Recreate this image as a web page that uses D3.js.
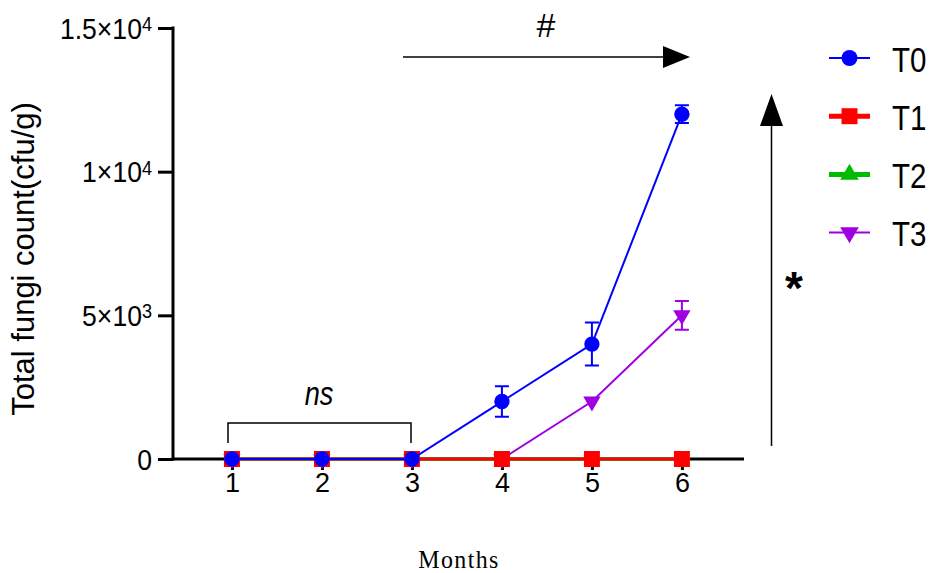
<!DOCTYPE html>
<html><head><meta charset="utf-8">
<script src="https://cdn.jsdelivr.net/npm/d3@7"></script>
<style>body{margin:0;background:#fff}svg{display:block}</style>
</head><body>
<svg id="c" width="931" height="573"></svg>
<script>
const months = [1, 2, 3, 4, 5, 6];
const seriesNames = ["T0", "T1", "T2", "T3"];
const T0 = [0, 0, 0, 2000, 4000, 12000];
const T0err = [0, 0, 0, 530, 750, 310];
const T1 = [0, 0, 0, 0, 0, 0];
const T1err = [0, 0, 0, 0, 0, 0];
const T2 = [0, 0, 0, 0, 0, 0];
const T2err = [0, 0, 0, 0, 0, 0];
const T3 = [0, 0, 0, 0, 2000, 5000];
const T3err = [0, 0, 0, 0, 0, 500];
const yTicks = [0, 5000, 10000, 15000];
const yTickLabels = [["0", ""], ["5×10", "3"], ["1×10", "4"], ["1.5×10", "4"]];

const svg = d3.select("#c");
const x = d3.scaleLinear().domain([0.345, 6.69]).range([173, 744]);
const y = d3.scaleLinear().domain([0, 15000]).range([459, 28]);

const font = "Arial, 'Liberation Sans', sans-serif";

// axes
const yAxis = svg.append("g").attr("transform", "translate(173,0)")
  .call(d3.axisLeft(y).tickValues(yTicks).tickSize(15).tickFormat(""));
yAxis.select(".domain").attr("stroke", "#000").attr("stroke-width", 3).attr("d", `M0,${y(15000)-1.5}V${y(0)+1.5}`);
yAxis.selectAll(".tick line").attr("stroke", "#000").attr("stroke-width", 3);
yAxis.selectAll(".tick").each(function(d, i) {
  const t = d3.select(this).append("text").attr("transform", "translate(-21,10) scale(0.95,1.08)")
    .attr("text-anchor", "end").attr("fill", "#000")
    .style("font-family", font).style("font-size", "28px");
  const lab = yTickLabels[i];
  t.append("tspan").text(lab[0]);
  if (lab[1]) t.append("tspan").attr("dy", -7).style("font-size", "19px").text(lab[1]);
});

const xAxis = svg.append("g").attr("transform", "translate(0,459)")
  .call(d3.axisBottom(x).tickValues(months).tickSize(11).tickFormat(d3.format("d")));
xAxis.select(".domain").attr("stroke", "#000").attr("stroke-width", 3).attr("d", `M173,0H744`);
xAxis.selectAll(".tick line").attr("stroke", "#000").attr("stroke-width", 3);
xAxis.selectAll(".tick text").attr("y", 33).attr("dy", 0).attr("fill", "#000")
  .style("font-family", font).style("font-size", "27px");

// axis titles
svg.append("text").attr("transform", "translate(34,259) rotate(-90)")
  .attr("text-anchor", "middle").style("font-family", font).style("font-size", "31px")
  .text("Total fungi count(cfu/g)");
svg.append("text").attr("transform", "translate(459,568) scale(0.92,1)").attr("text-anchor", "middle")
  .style("font-family", "'Liberation Serif', 'Times New Roman', serif").style("font-size", "26px")
  .style("letter-spacing", "1.5px").text("Months");

// series
const series = [
  {name: "T2", vals: T2, err: T2err, color: "#00BB00", width: 3, sym: d3.symbolTriangle, size: 80, lsize: 150},
  {name: "T3", vals: T3, err: T3err, color: "#A000E0", width: 2, sym: "down", size: 130, lsize: 150},
  {name: "T1", vals: T1, err: T1err, color: "#FF0000", width: 3, sym: d3.symbolSquare, size: 256, lsize: 256},
  {name: "T0", vals: T0, err: T0err, color: "#0000FF", width: 2, sym: d3.symbolCircle, size: 185, lsize: 200}
];
const line = d3.line().x(d => x(d[0])).y(d => y(d[1]));

function symPath(s, size) {
  return d3.symbol().type(s === "down" ? d3.symbolTriangle : s).size(size)();
}

series.forEach(s => {
  const g = svg.append("g");
  const pts = months.map((m, i) => [m, s.vals[i], s.err[i]]);
  g.append("path").datum(pts).attr("d", line).attr("fill", "none")
    .attr("stroke", s.color).attr("stroke-width", s.width);
  pts.filter(p => p[2] > 0).forEach(p => {
    const cx = x(p[0]);
    g.append("path").attr("d", `M${cx},${y(p[1] + p[2])}V${y(p[1] - p[2])}M${cx-7},${y(p[1] + p[2])}H${cx+7}M${cx-7},${y(p[1] - p[2])}H${cx+7}`)
      .attr("stroke", s.color).attr("stroke-width", 2).attr("fill", "none");
  });
  g.selectAll(".m").data(pts).join("path")
    .attr("transform", p => `translate(${x(p[0])},${y(p[1])})` + (s.sym === "down" ? " rotate(180)" : ""))
    .attr("d", symPath(s.sym, s.size)).attr("fill", s.color);
});

// legend
seriesNames.forEach((n, i) => {
  const s = series.find(d => d.name === n);
  const ly = 58 + i * 58.2;
  svg.append("line").attr("x1", 829).attr("x2", 870).attr("y1", ly).attr("y2", ly)
    .attr("stroke", s.color).attr("stroke-width", s.width === 3 ? 5 : 2);
  svg.append("path").attr("transform", `translate(849.5,${ly})` + (s.sym === "down" ? " rotate(180)" : ""))
    .attr("d", symPath(s.sym, s.lsize)).attr("fill", s.color);
  svg.append("text").attr("transform", `translate(892,${ly + 13.5}) scale(0.82,1)`)
    .style("font-family", font).style("font-size", "36px").text(n);
});

// annotations: horizontal arrow with #
svg.append("line").attr("x1", 403).attr("x2", 665).attr("y1", 57).attr("y2", 57)
  .attr("stroke", "#000").attr("stroke-width", 1.5);
svg.append("path").attr("d", "M663,46L690,57L663,68Z").attr("fill", "#000");
svg.append("text").attr("x", 546).attr("y", 37).attr("text-anchor", "middle")
  .style("font-family", font).style("font-size", "34px").text("#");

// vertical arrow with *
svg.append("line").attr("x1", 771.5).attr("x2", 771.5).attr("y1", 446).attr("y2", 120)
  .attr("stroke", "#000").attr("stroke-width", 1.5);
svg.append("path").attr("d", "M760,126L771.5,94L783,126Z").attr("fill", "#000");
svg.append("text").attr("x", 794).attr("y", 304).attr("text-anchor", "middle")
  .style("font-family", font).style("font-size", "46px").style("font-weight", "bold").text("*");

// ns bracket
svg.append("path").attr("d", "M228,443V423H411V443").attr("fill", "none")
  .attr("stroke", "#000").attr("stroke-width", 1.5);
svg.append("text").attr("transform", "translate(319,405) scale(0.8,1)").attr("text-anchor", "middle")
  .style("font-family", font).style("font-size", "34px").style("font-style", "italic").text("ns");
</script>
</body></html>
